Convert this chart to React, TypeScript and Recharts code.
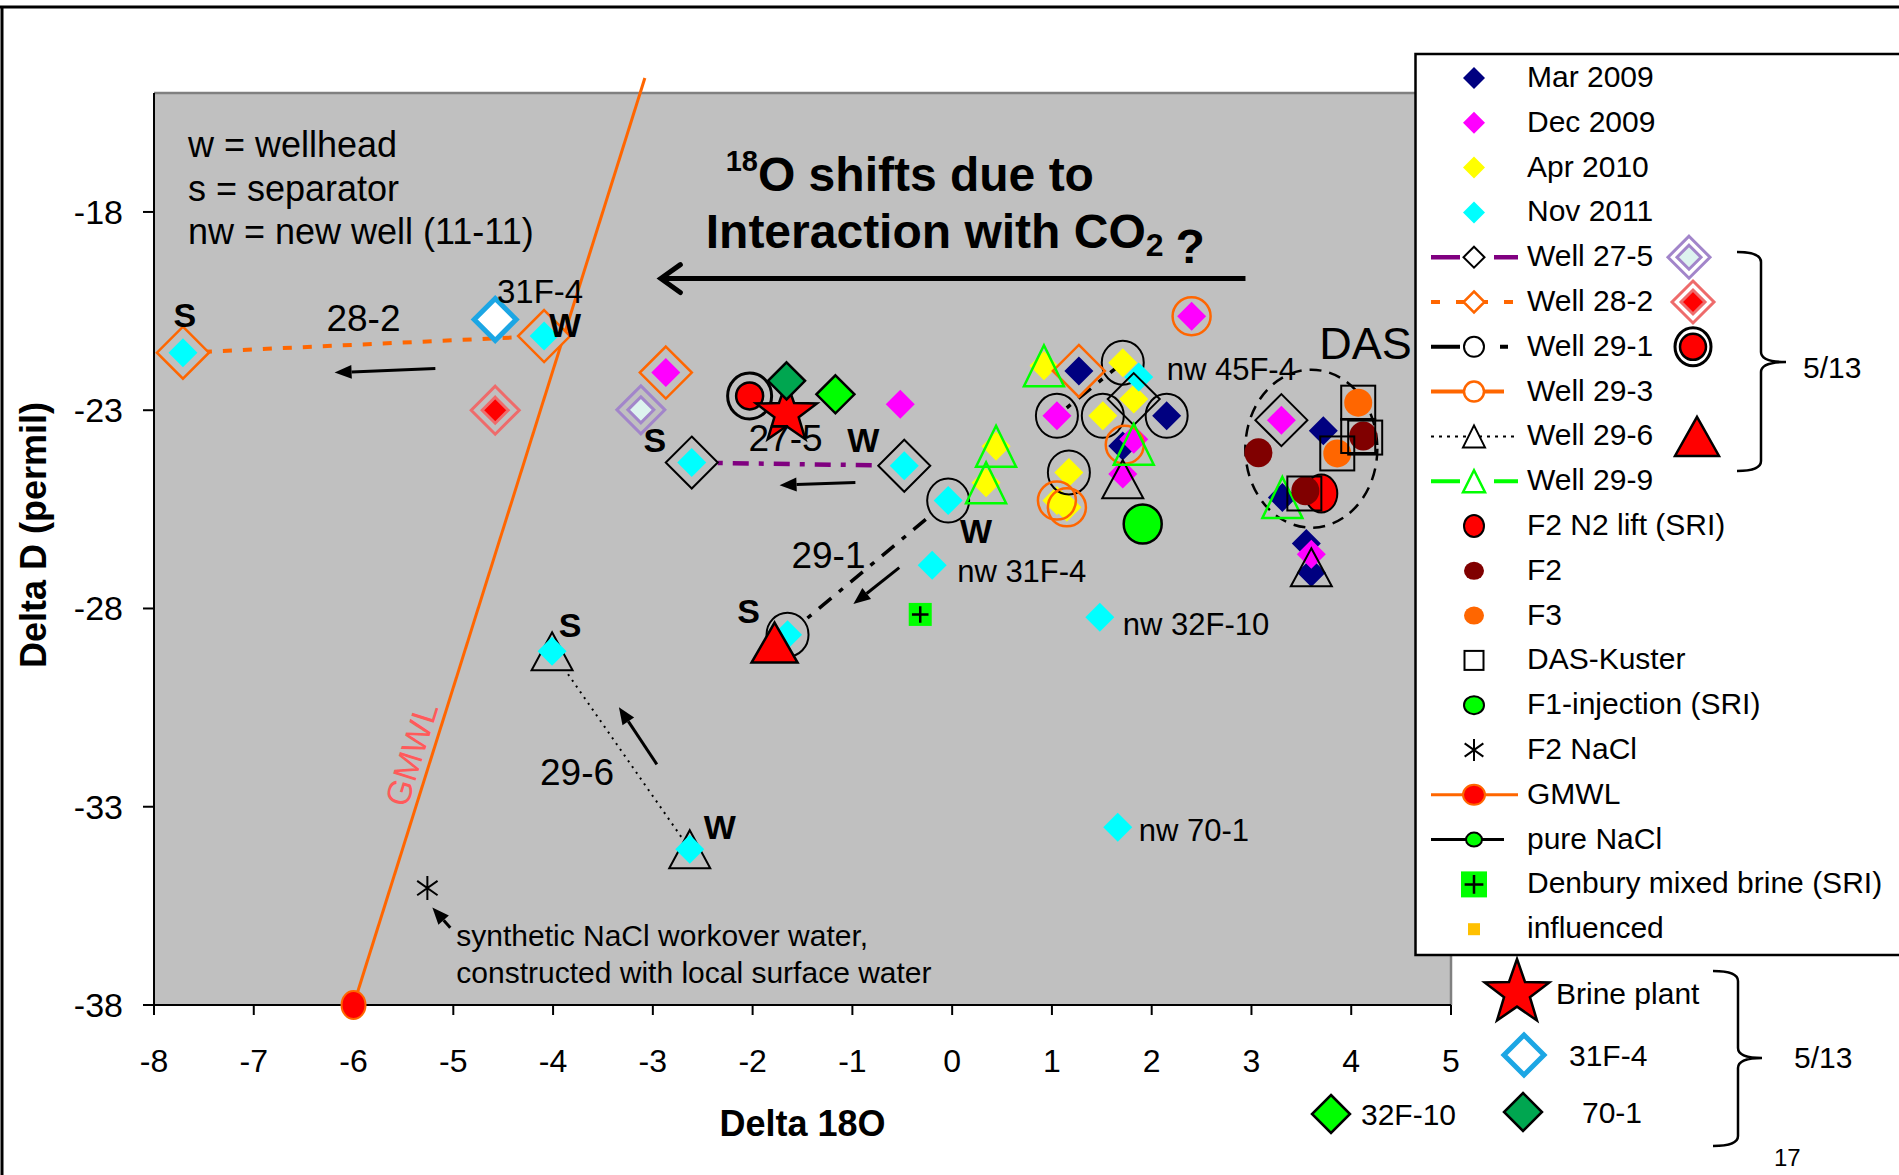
import React from 'react'
import {
  ScatterChart,
  Scatter,
  XAxis,
  YAxis,
  ReferenceArea,
  ReferenceLine,
  ReferenceDot,
} from 'recharts'

const FONT = '"Liberation Sans", Arial, Helvetica, sans-serif'
const W = 1899
const H = 1175

type Pt = { x: number; y: number }
const pt = (x: number, y: number): Pt => ({ x, y })

const xTicks = [-8, -7, -6, -5, -4, -3, -2, -1, 0, 1, 2, 3, 4, 5]
const yTicks = [-18, -23, -28, -33, -38]

// sampling campaigns (filled diamonds)
const mar2009 = [pt(1.27, -22.01), pt(2.15, -23.14), pt(1.71, -23.9), pt(3.72, -23.52), pt(3.31, -25.2), pt(3.55, -26.36), pt(3.6, -27.09)]
const dec2009 = [pt(-2.87, -22.05), pt(-0.52, -22.85), pt(1.05, -23.14), pt(1.82, -23.73), pt(1.71, -24.61), pt(2.4, -20.63), pt(3.3, -23.25), pt(3.6, -26.63)]
const apr2010 = [pt(0.92, -21.88), pt(1.71, -21.8), pt(1.51, -23.14), pt(1.82, -22.72), pt(0.44, -23.91), pt(0.34, -24.83), pt(1.17, -24.57), pt(1.05, -25.28), pt(1.15, -25.45)]
const nov2011 = [pt(-7.71, -21.55), pt(-4.09, -21.13), pt(-2.61, -24.32), pt(-0.48, -24.4), pt(-0.04, -25.28), pt(-1.65, -28.66), pt(-4.01, -29.08), pt(-2.63, -34.07), pt(-0.2, -26.91), pt(1.48, -28.22), pt(1.66, -33.52), pt(1.87, -22.16)]

// wells: separator -> wellhead pairs, plus earlier samples
const well275Pair = [pt(-2.61, -24.32), pt(-0.48, -24.4)]
const well275 = [pt(1.82, -22.72), pt(3.3, -23.25)]
const well282Pair = [pt(-7.71, -21.55), pt(-4.09, -21.13)]
const well282 = [pt(-2.87, -22.05), pt(1.27, -22.01)]
const well291Pair = [pt(-1.65, -28.66), pt(-0.04, -25.28)]
const well291Run = [pt(1.71, -21.8), pt(1.05, -23.14)]
const well291 = [pt(1.51, -23.14), pt(2.15, -23.14), pt(1.17, -24.57)]
const well293 = [pt(2.4, -20.63), pt(1.73, -23.87), pt(1.05, -25.28), pt(1.15, -25.45)]
const well296Pair = [pt(-4.01, -29.08), pt(-2.63, -34.07)]
const well296 = [pt(1.71, -24.74), pt(3.6, -26.96)]
const well299 = [pt(0.92, -21.88), pt(0.44, -23.91), pt(0.34, -24.83), pt(1.82, -23.86), pt(3.31, -25.2)]

// DAS / SRI samples and references
const f2N2Lift = [pt(3.7, -25.1)]
const f2 = [pt(3.07, -24.07), pt(4.12, -23.65), pt(3.54, -25.03)]
const f3 = [pt(4.07, -22.81), pt(3.86, -24.09)]
const dasKuster = [pt(4.07, -22.81), pt(4.07, -23.65), pt(4.14, -23.69), pt(3.86, -24.09), pt(3.53, -25.1)]
const f1Injection = [pt(1.91, -25.87)]
const f2NaCl = [pt(-5.26, -35.05)]
const denburyBrine = [pt(-0.32, -28.15)]
const gmwl = [pt(-6, -38), pt(-3.08, -14.62)]
const dasCluster = pt(3.6, -23.97)

// May 2013 samples
const may13Well275 = [pt(-3.12, -22.99)]
const may13Well282 = [pt(-4.58, -23.0)]
const may13Well291 = [pt(-2.03, -22.64)]
const may13Well296 = [pt(-1.78, -28.86)]
const brinePlant = [pt(-1.66, -23.08)]
const may13_31F4 = [pt(-4.58, -20.71)]
const may13_70_1 = [pt(-1.66, -22.26)]
const may13_32F10 = [pt(-1.17, -22.6)]

const NAVY = '#000080'
const MAGENTA = '#FF00FF'
const YELLOW = '#FFFF00'
const CYAN = '#00FFFF'
const ORANGE = '#FF6600'
const GREEN = '#00FF00'
const PURPLE = '#800080'
const RED = '#FF0000'
const MAROON = '#800000'
const LAVENDER = '#A285CA'
const SALMON = '#EE6B6B'
const SKY = '#1CA6E4'
const FOREST = '#00A650'
const PLOT_BG = '#C0C0C0'

type Mark = (cx: number, cy: number) => React.ReactNode

const diamond = (r: number, fill: string, stroke = 'none', sw = 0): Mark => (cx, cy) => (
  <polygon points={`${cx},${cy - r} ${cx + r},${cy} ${cx},${cy + r} ${cx - r},${cy}`} fill={fill} stroke={stroke} strokeWidth={sw} />
)
const ring = (rx: number, ry: number, stroke: string, sw: number, fill = 'none'): Mark => (cx, cy) => (
  <ellipse cx={cx} cy={cy} rx={rx} ry={ry} fill={fill} stroke={stroke} strokeWidth={sw} />
)
const triangle = (w: number, h: number, stroke: string, sw: number, fill = 'none'): Mark => (cx, cy) => (
  <polygon points={`${cx},${cy - h / 2} ${cx + w / 2},${cy + h / 2} ${cx - w / 2},${cy + h / 2}`} fill={fill} stroke={stroke} strokeWidth={sw} />
)
const square = (s: number, fill: string, stroke = 'none', sw = 0): Mark => (cx, cy) => (
  <rect x={cx - s / 2} y={cy - s / 2} width={s} height={s} fill={fill} stroke={stroke} strokeWidth={sw} />
)
const asterisk = (r: number): Mark => (cx, cy) => (
  <path
    d={`M${cx},${cy - r}V${cy + r}M${cx - r * 0.85},${cy - r * 0.6}L${cx + r * 0.85},${cy + r * 0.6}M${cx - r * 0.85},${cy + r * 0.6}L${cx + r * 0.85},${cy - r * 0.6}`}
    stroke="#000"
    strokeWidth={2}
  />
)
const plusBox = (s: number): Mark => (cx, cy) => (
  <g>
    <rect x={cx - s / 2} y={cy - s / 2} width={s} height={s} fill={GREEN} />
    <path d={`M${cx - s * 0.36},${cy}H${cx + s * 0.36}M${cx},${cy - s * 0.36}V${cy + s * 0.36}`} stroke="#000" strokeWidth={2.5} />
  </g>
)
const star = (r: number): Mark => (cx, cy) => {
  const pts: string[] = []
  for (let i = 0; i < 10; i++) {
    const a = -Math.PI / 2 + (i * Math.PI) / 5
    const k = i % 2 === 0 ? r : r * 0.4
    pts.push(`${cx + Math.cos(a) * k},${cy + Math.sin(a) * k}`)
  }
  return <polygon points={pts.join(' ')} fill={RED} stroke="#000" strokeWidth={2.5} />
}
const stack = (...marks: Mark[]): Mark => (cx, cy) => (
  <g>
    {marks.map((m, i) => (
      <React.Fragment key={i}>{m(cx, cy)}</React.Fragment>
    ))}
  </g>
)
const doubleDiamond = (ro: number, ri: number, stroke: string, fill: string): Mark =>
  stack(diamond(ro, 'none', stroke, 3), diamond(ri, fill, stroke, 3))
const dotInRing = (ro: number, ri: number): Mark =>
  stack(ring(ro, ro + 1, '#000', 3), ring(ri, ri, '#000', 2.5, RED))

type Layer = { id: string; data: Pt[]; mark: Mark; line?: Record<string, unknown> }

const dashDot = (stroke: string, width: number) => ({ stroke, strokeWidth: width, strokeDasharray: '16 10 5 10' })

const layers: Layer[] = [
  { id: 'w282pair', data: well282Pair, mark: diamond(26, PLOT_BG, ORANGE, 2.5), line: { stroke: ORANGE, strokeWidth: 4, strokeDasharray: '9 11' } },
  { id: 'w275pair', data: well275Pair, mark: diamond(26, PLOT_BG, '#000', 2), line: dashDot(PURPLE, 4.5) },
  { id: 'w291pair', data: well291Pair, mark: ring(21, 22, '#000', 2, PLOT_BG), line: dashDot('#000', 3.5) },
  { id: 'w296pair', data: well296Pair, mark: triangle(41, 38, '#000', 2, PLOT_BG), line: { stroke: '#000', strokeWidth: 2, strokeDasharray: '2 5' } },
  { id: 'w291run', data: well291Run, mark: ring(21, 22, '#000', 2), line: dashDot('#000', 3.5) },
  { id: 'mar', data: mar2009, mark: diamond(14.5, NAVY) },
  { id: 'dec', data: dec2009, mark: diamond(14.5, MAGENTA) },
  { id: 'apr', data: apr2010, mark: diamond(14.5, YELLOW) },
  { id: 'nov', data: nov2011, mark: diamond(14.5, CYAN) },
  { id: 'w275', data: well275, mark: diamond(26, 'none', '#000', 2) },
  { id: 'w282', data: well282, mark: diamond(26, 'none', ORANGE, 2.5) },
  { id: 'w291', data: well291, mark: ring(21, 22, '#000', 2) },
  { id: 'w293', data: well293, mark: ring(19, 19, ORANGE, 2.5) },
  { id: 'w296', data: well296, mark: triangle(41, 38, '#000', 2) },
  { id: 'w299', data: well299, mark: triangle(40, 41, GREEN, 2.5) },
  { id: 'f2n2', data: f2N2Lift, mark: ring(16, 19, '#000', 2, RED) },
  { id: 'f2', data: f2, mark: ring(14, 14.5, 'none', 0, MAROON) },
  { id: 'f3', data: f3, mark: ring(14, 14, 'none', 0, ORANGE) },
  { id: 'das', data: dasKuster, mark: square(34, 'none', '#000', 2) },
  { id: 'f1', data: f1Injection, mark: ring(19, 19.5, '#000', 2.5, GREEN) },
  { id: 'nacl', data: f2NaCl, mark: asterisk(12) },
  { id: 'denbury', data: denburyBrine, mark: plusBox(23) },
  { id: 'gmwl', data: gmwl.slice(0, 1), mark: ring(12, 14, ORANGE, 2, RED) },
  { id: 'm275', data: may13Well275, mark: doubleDiamond(24, 13, LAVENDER, '#DDF3EF') },
  { id: 'm282', data: may13Well282, mark: doubleDiamond(24, 13, SALMON, RED) },
  { id: 'm31f4', data: may13_31F4, mark: diamond(21, '#fff', SKY, 5) },
  { id: 'm296', data: may13Well296, mark: triangle(46, 40, '#000', 2.5, RED) },
  { id: 'm291', data: may13Well291, mark: dotInRing(22, 13.5) },
  { id: 'brine', data: brinePlant, mark: star(32) },
  { id: 'm701', data: may13_70_1, mark: diamond(18.5, FOREST, '#000', 2.5) },
  { id: 'm32f10', data: may13_32F10, mark: diamond(19, GREEN, '#000', 2.5) },
]

type Note = { x: number; y: number; text: string; size: number; bold?: boolean; anchor?: 'start' | 'middle'; color?: string; rotate?: number }

const notes: Note[] = [
  { x: -7.66, y: -16.3, text: 'w = wellhead', size: 36, anchor: 'start' },
  { x: -7.66, y: -17.4, text: 's = separator', size: 36, anchor: 'start' },
  { x: -7.66, y: -18.49, text: 'nw = new well (11-11)', size: 36, anchor: 'start' },
  { x: -7.69, y: -20.6, text: 'S', size: 34, bold: true },
  { x: -5.9, y: -20.67, text: '28-2', size: 37 },
  { x: -4.13, y: -20.0, text: '31F-4', size: 33 },
  { x: -3.88, y: -20.86, text: 'W', size: 34, bold: true },
  { x: -2.98, y: -23.75, text: 'S', size: 34, bold: true },
  { x: -1.67, y: -23.69, text: '27-5', size: 37 },
  { x: -0.89, y: -23.75, text: 'W', size: 34, bold: true },
  { x: 0.24, y: -26.05, text: 'W', size: 34, bold: true },
  { x: -1.24, y: -26.64, text: '29-1', size: 37 },
  { x: -2.04, y: -28.06, text: 'S', size: 34, bold: true },
  { x: -3.83, y: -28.41, text: 'S', size: 34, bold: true },
  { x: -2.33, y: -33.51, text: 'W', size: 34, bold: true },
  { x: -3.76, y: -32.12, text: '29-6', size: 37 },
  { x: -4.97, y: -36.24, text: 'synthetic NaCl workover water,', size: 30, anchor: 'start' },
  { x: -4.97, y: -37.17, text: 'constructed with local surface water', size: 30, anchor: 'start' },
  { x: -5.42, y: -31.68, text: 'GMWL', size: 34, color: '#FF5A5A', rotate: -72.6 },
  { x: 0.05, y: -27.06, text: 'nw 31F-4', size: 31, anchor: 'start' },
  { x: 1.71, y: -28.4, text: 'nw 32F-10', size: 31, anchor: 'start' },
  { x: 1.87, y: -33.58, text: 'nw 70-1', size: 31, anchor: 'start' },
  { x: 2.15, y: -21.97, text: 'nw 45F-4', size: 31, anchor: 'start' },
  { x: 3.68, y: -21.3, text: 'DAS', size: 45, anchor: 'start' },
]

type Arrow = { from: Pt; to: Pt; heavy?: boolean }
const arrows: Arrow[] = [
  { from: pt(-5.18, -21.95), to: pt(-6.19, -22.05) },
  { from: pt(-0.97, -24.82), to: pt(-1.73, -24.89) },
  { from: pt(-0.53, -26.97), to: pt(-0.99, -27.89) },
  { from: pt(-2.96, -31.93), to: pt(-3.34, -30.49) },
  { from: pt(-5.03, -36.05), to: pt(-5.21, -35.54) },
  { from: pt(2.94, -19.68), to: pt(-2.92, -19.68), heavy: true },
]

const arrowShape = (heavy?: boolean) => (props: any) => {
  const { x1, y1, x2, y2 } = props
  const a = Math.atan2(y2 - y1, x2 - x1)
  if (heavy) {
    const leg = 24
    const s = 0.62
    return (
      <g stroke="#000" strokeWidth={5} strokeLinecap="round" fill="none">
        <line x1={x1} y1={y1} x2={x2} y2={y2} strokeLinecap="butt" />
        <path d={`M${x2 + Math.cos(a + Math.PI - s) * leg},${y2 + Math.sin(a + Math.PI - s) * leg}L${x2},${y2}L${x2 + Math.cos(a + Math.PI + s) * leg},${y2 + Math.sin(a + Math.PI + s) * leg}`} />
      </g>
    )
  }
  const L = 17
  const hw = 7
  const bx = x2 - Math.cos(a) * L
  const by = y2 - Math.sin(a) * L
  return (
    <g>
      <line x1={x1} y1={y1} x2={bx} y2={by} stroke="#000" strokeWidth={3} />
      <polygon points={`${x2},${y2} ${bx - Math.sin(a) * hw},${by + Math.cos(a) * hw} ${bx + Math.sin(a) * hw},${by - Math.cos(a) * hw}`} fill="#000" />
    </g>
  )
}

const XTick = (props: any) => (
  <text x={props.x} y={props.y} dy={57} textAnchor="middle" fontSize={32} fontFamily={FONT} fill="#000">
    {props.payload.value}
  </text>
)

const YTick = (props: any) => (
  <text x={props.x} y={props.y} dy={12} textAnchor="end" fontSize={34} fontFamily={FONT} fill="#000">
    {props.payload.value}
  </text>
)

const XTitle = (props: any) => {
  const vb = props.viewBox
  return (
    <text x={vb.x + vb.width / 2} y={vb.y + 131} textAnchor="middle" fontSize={36} fontWeight={700} fontFamily={FONT} fill="#000">
      Delta 18O
    </text>
  )
}

const YTitle = (props: any) => {
  const vb = props.viewBox
  const cx = vb.x + vb.width - 121
  const cy = vb.y + vb.height / 2 - 14
  return (
    <text x={cx} y={cy} dy="0.35em" transform={`rotate(-90 ${cx} ${cy})`} textAnchor="middle" fontSize={36} fontWeight={700} fontFamily={FONT} fill="#000">
      Delta D (permil)
    </text>
  )
}

type LegendRow = { label: string; mark: Mark; line?: { stroke: string; width: number; dash?: string; to: number } }

const legendRows: LegendRow[] = [
  { label: 'Mar 2009', mark: diamond(11, NAVY) },
  { label: 'Dec 2009', mark: diamond(11, MAGENTA) },
  { label: 'Apr 2010', mark: diamond(11, YELLOW) },
  { label: 'Nov 2011', mark: diamond(11, CYAN) },
  { label: 'Well 27-5', mark: diamond(10.5, '#fff', '#000', 2), line: { stroke: PURPLE, width: 4.5, dash: '29 12 8 14 24', to: 1518 } },
  { label: 'Well 28-2', mark: diamond(10.5, '#fff', ORANGE, 2.5), line: { stroke: ORANGE, width: 4, dash: '9 16 32 16 9', to: 1513 } },
  { label: 'Well 29-1', mark: ring(10, 10, '#000', 2, '#fff'), line: { stroke: '#000', width: 4, dash: '29 16 6 18 8', to: 1508 } },
  { label: 'Well 29-3', mark: ring(10, 10, ORANGE, 2.5, '#fff'), line: { stroke: ORANGE, width: 4, to: 1504 } },
  { label: 'Well 29-6', mark: triangle(22, 22, '#000', 2, '#fff'), line: { stroke: '#000', width: 2, dash: '3 5', to: 1518 } },
  { label: 'Well 29-9', mark: triangle(22, 22, GREEN, 2.5, '#fff'), line: { stroke: GREEN, width: 4, dash: '29 12 8 14 24', to: 1518 } },
  { label: 'F2 N2 lift (SRI)', mark: ring(10, 11, '#000', 2, RED) },
  { label: 'F2', mark: ring(10, 9, 'none', 0, MAROON) },
  { label: 'F3', mark: ring(10, 9, 'none', 0, ORANGE) },
  { label: 'DAS-Kuster', mark: square(19, '#fff', '#000', 2) },
  { label: 'F1-injection (SRI)', mark: ring(10, 9, '#000', 2, GREEN) },
  { label: 'F2 NaCl', mark: asterisk(11) },
  { label: 'GMWL', mark: ring(11, 10, ORANGE, 2, RED), line: { stroke: ORANGE, width: 3, to: 1518 } },
  { label: 'pure NaCl', mark: ring(8, 7, '#000', 2, GREEN), line: { stroke: '#000', width: 3, to: 1504 } },
  { label: 'Denbury mixed brine (SRI)', mark: plusBox(26) },
  { label: 'influenced', mark: square(12, '#FFC000') },
]

const legendExtras: { row: number; dx: number; mark: Mark }[] = [
  { row: 4, dx: 1689, mark: doubleDiamond(21, 12, LAVENDER, '#DDF3EF') },
  { row: 5, dx: 1693, mark: doubleDiamond(21, 12, SALMON, RED) },
  { row: 6, dx: 1693, mark: dotInRing(18, 13) },
  { row: 8, dx: 1697, mark: triangle(44, 39, '#000', 2.5, RED) },
]

const sampleKey: { label: string; mx: number; my: number; tx: number; mark: Mark }[] = [
  { label: 'Brine plant', mx: 1517, my: 993, tx: 1556, mark: star(34) },
  { label: '31F-4', mx: 1524, my: 1055, tx: 1569, mark: diamond(20, '#fff', SKY, 5) },
  { label: '70-1', mx: 1523, my: 1112, tx: 1582, mark: diamond(19, FOREST, '#000', 2.5) },
  { label: '32F-10', mx: 1331, my: 1114, tx: 1361, mark: diamond(19, GREEN, '#000', 2.5) },
]

const brace = (x0: number, x1: number, top: number, mid: number, bottom: number, tip: number) =>
  `M${x0},${top}Q${x1},${top} ${x1},${top + 10}L${x1},${mid - 10}Q${x1},${mid} ${tip},${mid}Q${x1},${mid} ${x1},${mid + 10}L${x1},${bottom - 10}Q${x1},${bottom} ${x0},${bottom}`

function Overlay() {
  const rowY = (i: number) => 78 + i * 44.8
  return (
    <svg width={W} height={H} style={{ position: 'absolute', left: 0, top: 0, pointerEvents: 'none' }} fontFamily={FONT}>
      <line x1={0} y1={7} x2={W} y2={7} stroke="#000" strokeWidth={3} />
      <line x1={2} y1={7} x2={2} y2={H} stroke="#000" strokeWidth={3} />
      <rect x={1415.5} y={54} width={520} height={901} fill="#fff" stroke="#000" strokeWidth={2.5} />
      {legendRows.map((r, i) => {
        const cy = rowY(i)
        return (
          <g key={r.label}>
            {r.line && <line x1={1431} y1={cy} x2={r.line.to} y2={cy} stroke={r.line.stroke} strokeWidth={r.line.width} strokeDasharray={r.line.dash} />}
            {r.mark(1474, cy)}
            <text x={1527} y={cy + 9} fontSize={30} fill="#000">
              {r.label}
            </text>
          </g>
        )
      })}
      {legendExtras.map((e) => (
        <g key={e.row}>{e.mark(e.dx, rowY(e.row))}</g>
      ))}
      <path d={brace(1737, 1761, 252, 362, 471, 1786)} stroke="#000" strokeWidth={2.5} fill="none" />
      <text x={1803} y={378} fontSize={30} fill="#000">5/13</text>
      {sampleKey.map((s) => (
        <g key={s.label}>
          {s.mark(s.mx, s.my)}
          <text x={s.tx} y={s.my + 11} fontSize={30} fill="#000">
            {s.label}
          </text>
        </g>
      ))}
      <path d={brace(1713, 1738, 971, 1058, 1146, 1762)} stroke="#000" strokeWidth={2.5} fill="none" />
      <text x={1794} y={1068} fontSize={30} fill="#000">5/13</text>
      <text x={1774} y={1166} fontSize={24} fill="#000">17</text>
    </svg>
  )
}

export default function App() {
  return (
    <div style={{ position: 'absolute', left: 0, top: 0, width: W, height: H, background: '#fff', overflow: 'hidden' }}>
      <ScatterChart width={W} height={H} margin={{ top: 93, right: 448, bottom: 140, left: 94 }}>
        <ReferenceArea x1={-8} x2={5} y1={-38} y2={-15} fill={PLOT_BG} fillOpacity={1} stroke="none" />
        <ReferenceLine y={-15} stroke="#808080" strokeWidth={2.5} />
        <ReferenceLine x={5} stroke="#808080" strokeWidth={2.5} />
        <XAxis
          type="number"
          dataKey="x"
          domain={[-8, 5]}
          ticks={xTicks}
          interval={0}
          height={30}
          tickSize={10}
          tickMargin={0}
          axisLine={{ stroke: '#000', strokeWidth: 2 }}
          tickLine={{ stroke: '#000', strokeWidth: 2 }}
          tick={XTick}
          label={XTitle}
        />
        <YAxis
          type="number"
          dataKey="y"
          domain={[-38, -15]}
          ticks={yTicks}
          interval={0}
          width={60}
          tickSize={11}
          tickMargin={20}
          axisLine={{ stroke: '#000', strokeWidth: 2 }}
          tickLine={{ stroke: '#000', strokeWidth: 2 }}
          tick={YTick}
          label={YTitle}
        />
        <ReferenceLine
          segment={[gmwl[0], gmwl[1]]}
          ifOverflow="visible"
          stroke={ORANGE}
          strokeWidth={3}
        />
        <ReferenceDot
          x={dasCluster.x}
          y={dasCluster.y}
          r={1}
          ifOverflow="visible"
          shape={(d: any) => (
            <ellipse cx={d.cx} cy={d.cy} rx={66} ry={79} fill="none" stroke="#000" strokeWidth={2.5} strokeDasharray="12 8" />
          )}
        />
        {layers.map((l) => (
          <Scatter
            key={l.id}
            name={l.id}
            data={l.data}
            isAnimationActive={false}
            line={l.line ?? false}
            shape={(p: any) => <g>{l.mark(p.cx, p.cy)}</g>}
          />
        ))}
        {arrows.map((a, i) => (
          <ReferenceLine
            key={`a${i}`}
            segment={[a.from, a.to]}
            ifOverflow="visible"
            stroke="#000"
            shape={arrowShape(a.heavy)}
          />
        ))}
        {notes.map((n, i) => (
          <ReferenceDot
            key={`n${i}`}
            x={n.x}
            y={n.y}
            r={1}
            ifOverflow="visible"
            shape={(d: any) => (
              <text
                x={d.cx}
                y={d.cy}
                dy="0.35em"
                textAnchor={n.anchor ?? 'middle'}
                fontSize={n.size}
                fontWeight={n.bold ? 700 : 400}
                fill={n.color ?? '#000'}
                fontFamily={FONT}
                transform={n.rotate ? `rotate(${n.rotate} ${d.cx} ${d.cy})` : undefined}
              >
                {n.text}
              </text>
            )}
          />
        ))}
        <ReferenceDot
          x={-2.27}
          y={-17.48}
          r={1}
          ifOverflow="visible"
          shape={(d: any) => (
            <text x={d.cx} y={d.cy} fontFamily={FONT} fontWeight={700} fontSize={48} fill="#000">
              <tspan fontSize={29} dy={-20}>18</tspan>
              <tspan dy={20}>O shifts due to</tspan>
            </text>
          )}
        />
        <ReferenceDot
          x={-2.47}
          y={-18.91}
          r={1}
          ifOverflow="visible"
          shape={(d: any) => (
            <text x={d.cx} y={d.cy} fontFamily={FONT} fontWeight={700} fontSize={48} fill="#000">
              Interaction with CO
              <tspan fontSize={32} dy={8}>2</tspan>
              <tspan dx={12} dy={7}>?</tspan>
            </text>
          )}
        />
      </ScatterChart>
      <Overlay />
    </div>
  )
}
